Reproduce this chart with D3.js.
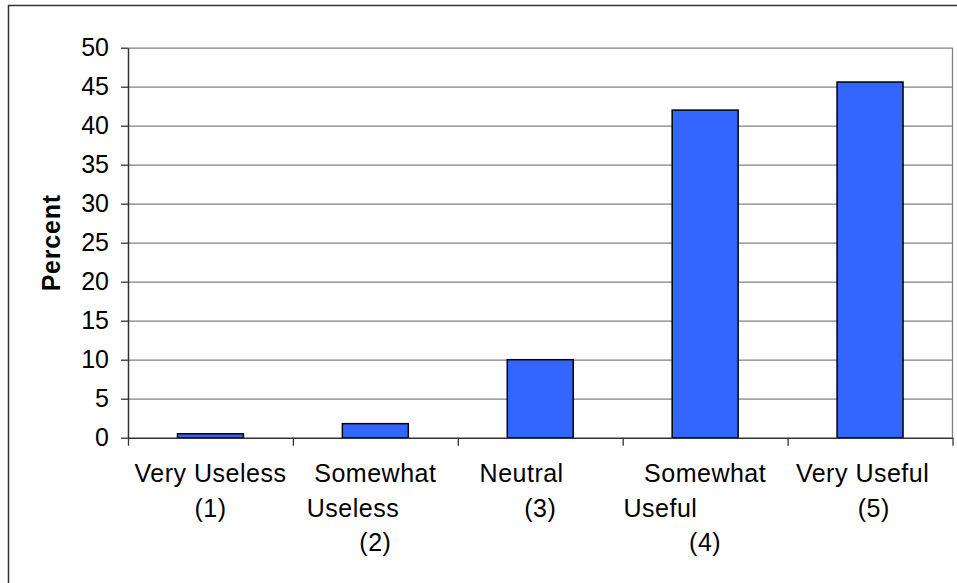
<!DOCTYPE html>
<html>
<head>
<meta charset="utf-8">
<script src="https://cdn.jsdelivr.net/npm/d3@7"></script>
<style>
  html, body { margin: 0; padding: 0; background: #fff; }
  svg { display: block; font-family: "Liberation Sans", Arial, sans-serif; }
</style>
</head>
<body>
<svg id="chart" width="957" height="583"></svg>
<script>
// ---- data ----
const categories = ["Very Useless (1)", "Somewhat Useless (2)", "Neutral (3)", "Somewhat Useful (4)", "Very Useful (5)"];
const NB = "\u00A0";
const labelLines = [
  ["Very Useless", "(1)"],
  ["Somewhat", "Useless" + NB.repeat(6), "(2)"],
  ["Neutral" + NB.repeat(5), "(3)"],
  ["Somewhat", "Useful" + NB.repeat(12), "(4)"],
  ["Very Useful" + NB.repeat(2), NB + "(5)"]
];
const values = [0.5, 1.8, 10, 42, 45.6];
const yTicks = [0, 5, 10, 15, 20, 25, 30, 35, 40, 45, 50];
const yTitle = "Percent";

// ---- layout ----
(function () {
const svg = d3.select("#chart");
const pLeft = 128, pRight = 952.5, pTop = 47.7, pBottom = 437.7;
const fs = 25;

// outer chart border
svg.append("rect")
  .attr("x", 8.5).attr("y", 5.5)
  .attr("width", 1000).attr("height", 700)
  .attr("fill", "#fff").attr("stroke", "#333").attr("stroke-width", 1.5);

const x = d3.scaleBand().domain(categories).range([pLeft, pRight])
  .paddingInner(0.6).paddingOuter(0.3);
const xIdx = d3.scaleLinear().domain([0, categories.length]).range([pLeft, pRight]);
const y = d3.scaleLinear().domain([0, 50]).range([pBottom, pTop]);

// gridlines
const grid = svg.append("g").attr("transform", `translate(${pLeft},0)`)
  .call(d3.axisLeft(y).tickValues(yTicks.filter(t => t > 0)).tickSize(-(pRight - pLeft)).tickFormat(""));
grid.select(".domain").remove();
grid.selectAll("line").attr("stroke", "#808080").attr("stroke-width", 1.3);

// plot area right border
svg.append("line")
  .attr("x1", pRight).attr("x2", pRight).attr("y1", y(50)).attr("y2", y(0))
  .attr("stroke", "#808080").attr("stroke-width", 1.3);

// bars
svg.append("g").selectAll("rect").data(values).join("rect")
  .attr("x", (d, i) => x(categories[i]))
  .attr("width", x.bandwidth())
  .attr("y", d => y(d))
  .attr("height", d => y(0) - y(d))
  .attr("fill", "#3366FF")
  .attr("stroke", "#000")
  .attr("stroke-width", 1.5);

// y axis
const yAxis = svg.append("g").attr("transform", `translate(${pLeft},0)`)
  .call(d3.axisLeft(y).tickValues(yTicks).tickSizeInner(7).tickSizeOuter(0).tickPadding(12));
yAxis.select(".domain").attr("stroke", "#333").attr("stroke-width", 1.5);
yAxis.selectAll("line").attr("stroke", "#333").attr("stroke-width", 1.3);
yAxis.selectAll("text").attr("font-size", fs).attr("fill", "#000")
  .attr("font-family", "'Liberation Sans', Arial, sans-serif");

// x axis (category boundary ticks)
const xAxis = svg.append("g").attr("transform", `translate(0,${pBottom})`)
  .call(d3.axisBottom(xIdx).tickValues(d3.range(categories.length + 1)).tickFormat("").tickSizeInner(8).tickSizeOuter(0));
xAxis.select(".domain").attr("stroke", "#333").attr("stroke-width", 1.5);
xAxis.selectAll("line").attr("stroke", "#333").attr("stroke-width", 1.3);

// category labels
const lab = svg.append("g").selectAll("text").data(labelLines).join("text")
  .attr("text-anchor", "middle")
  .attr("font-size", fs)
  .attr("letter-spacing", 0.5)
  .attr("fill", "#000");
lab.each(function(lines, i) {
  const cx = x(categories[i]) + x.bandwidth() / 2;
  d3.select(this).selectAll("tspan").data(lines).join("tspan")
    .attr("x", cx)
    .attr("y", (d, j) => 482 + j * 34.5)
    .text(d => d);
});

// y axis title
svg.append("text")
  .attr("transform", `translate(60,${(pTop + pBottom) / 2}) rotate(-90)`)
  .attr("text-anchor", "middle")
  .attr("font-size", fs)
  .attr("letter-spacing", 0.8)
  .attr("font-weight", "bold")
  .attr("fill", "#000")
  .text(yTitle);
})();
</script>
</body>
</html>
